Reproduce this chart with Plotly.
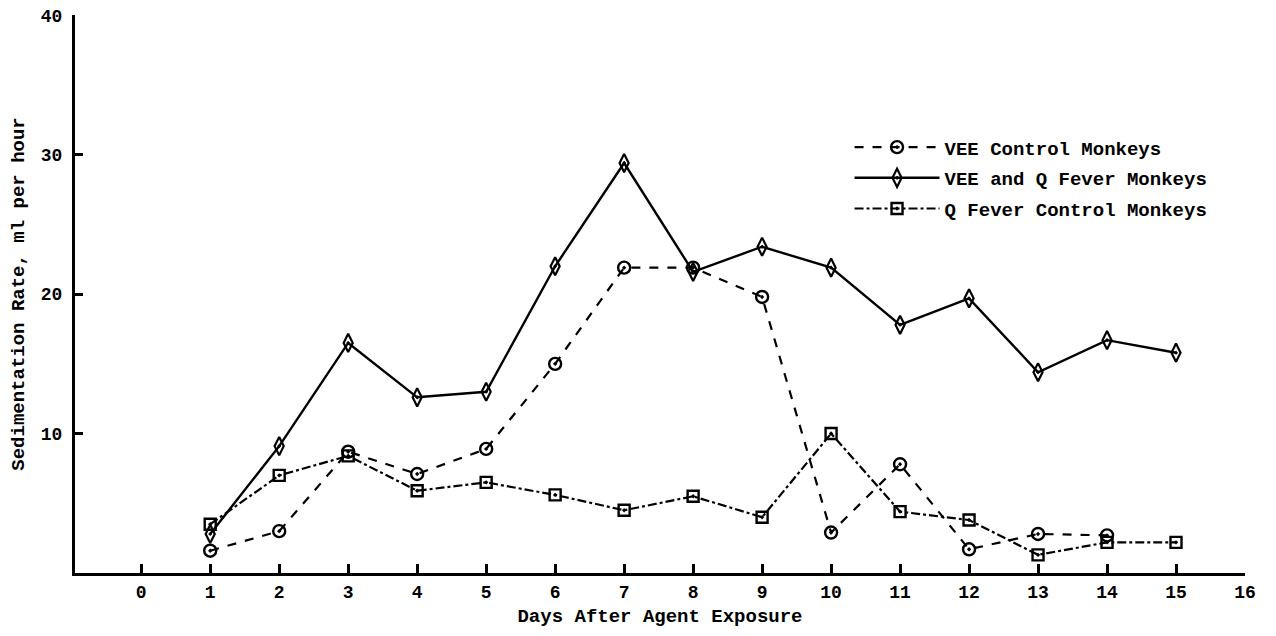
import plotly.graph_objects as go

days_vee_ctrl = [1, 2, 3, 4, 5, 6, 7, 8, 9, 10, 11, 12, 13, 14]
vee_ctrl = [1.6, 3.0, 8.7, 7.1, 8.9, 15.0, 21.9, 21.9, 19.8, 2.9, 7.8, 1.7, 2.8, 2.7]

days_vee_q = [1, 2, 3, 4, 5, 6, 7, 8, 9, 10, 11, 12, 13, 14, 15]
vee_q = [2.8, 9.1, 16.5, 12.6, 13.0, 22.0, 29.4, 21.6, 23.4, 21.9, 17.8, 19.7, 14.4, 16.7, 15.8]

days_q_ctrl = [1, 2, 3, 4, 5, 6, 7, 8, 9, 10, 11, 12, 13, 14, 15]
q_ctrl = [3.5, 7.0, 8.4, 5.9, 6.5, 5.6, 4.5, 5.5, 4.0, 10.0, 4.4, 3.8, 1.3, 2.2, 2.2]

x_ticks = list(range(0, 17))
y_ticks = [10, 20, 30, 40]

FONT = "Liberation Mono"

fig = go.Figure()
fig.add_trace(go.Scatter(
    x=days_vee_ctrl, y=vee_ctrl, name="VEE Control Monkeys", mode="lines+markers",
    legendgroup="a",
    line=dict(color="black", width=2.2, dash="dash"),
    marker=dict(symbol="circle-open-dot", size=12, color="black", line=dict(width=2.4)),
))
fig.add_trace(go.Scatter(
    x=days_vee_q, y=vee_q, name="VEE and Q Fever Monkeys", mode="lines+markers",
    legendgroup="b",
    line=dict(color="black", width=2.4),
    marker=dict(symbol="diamond-tall-open-dot", size=13, color="black", line=dict(width=2.2)),
))
fig.add_trace(go.Scatter(
    x=days_q_ctrl, y=q_ctrl, name="Q Fever Control Monkeys", mode="lines+markers",
    legendgroup="c",
    line=dict(color="black", width=2.2, dash="dashdot"),
    marker=dict(symbol="square-open-dot", size=11, color="black", line=dict(width=2.4)),
))

fig.update_layout(
    width=1276, height=636,
    margin=dict(l=67, r=39, t=7, b=71),
    paper_bgcolor="white", plot_bgcolor="white",
    font=dict(family=FONT, color="black", size=13),
    legend=dict(x=0.662, y=0.797, xanchor="left", yanchor="top",
                font=dict(family=FONT, size=19, color="black", weight="bold"),
                bgcolor="rgba(0,0,0,0)", tracegroupgap=3, itemwidth=85),
    xaxis=dict(range=[-0.96, 16], tickvals=x_ticks, ticktext=[str(v) for v in x_ticks],
               automargin=False,
               showgrid=False, zeroline=False, showline=True, linecolor="black", linewidth=3,
               ticks="inside", ticklen=9, tickwidth=2.5, tickcolor="black",
               tickfont=dict(family=FONT, size=18, weight="bold"),
               title=dict(text="Days After Agent Exposure", standoff=8,
                          font=dict(family=FONT, size=19, weight="bold"))),
    yaxis=dict(range=[0, 40.02], tickvals=y_ticks, ticktext=[str(v) for v in y_ticks],
               automargin=False,
               showgrid=False, zeroline=False, showline=True, linecolor="black", linewidth=3,
               ticks="inside", ticklen=8, tickwidth=2.5, tickcolor="black",
               ticklabelstandoff=6, ticklabeloverflow="allow",
               tickfont=dict(family=FONT, size=18, weight="bold"),
               title=dict(text="Sedimentation Rate, ml per hour", standoff=14,
                          font=dict(family=FONT, size=19, weight="bold"))),
)

fig.write_html("out.html")
